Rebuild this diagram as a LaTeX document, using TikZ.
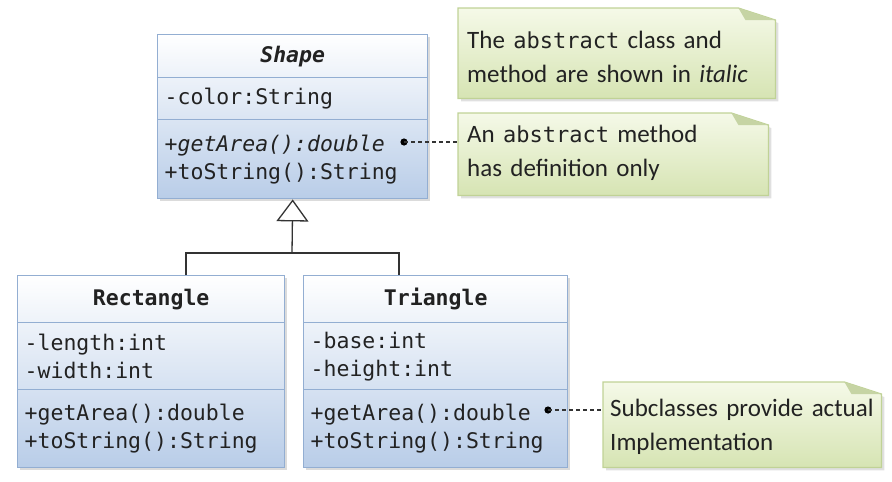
\documentclass[tikz,border=0pt]{standalone}
\usepackage{fontspec}
\setmainfont{Carlito}
\setmonofont{DejaVu Sans Mono}
\usetikzlibrary{arrows.meta,calc}
\definecolor{clsborder}{HTML}{93AED2}
\definecolor{clsmid}{HTML}{E6EDF7}
\definecolor{clsbot}{HTML}{B9CDE8}
\definecolor{notetop}{HTML}{F5F9E8}
\definecolor{notebot}{HTML}{D6E4B3}
\definecolor{noteborder}{HTML}{C0D296}
\definecolor{notefold}{HTML}{C6D4A4}
\definecolor{txt}{HTML}{222222}
\tikzset{
  comp/.style={draw=clsborder, line width=1.4pt, anchor=north west, inner ysep=0pt,
    text=txt, font=\ttfamily\fontsize{21.5}{28}\selectfont},
  hdr/.style={comp, align=center, inner xsep=0pt},
  body/.style={comp, align=left, inner xsep=7pt, text width=#1},
  notebox/.style={anchor=north west, inner xsep=9pt, inner ysep=0pt, align=left,
    text=txt, font=\fontsize{25}{34}\selectfont},
  shadowfill/.style={fill=black!14},
  clsshade/.style={top color=white, middle color=clsmid, bottom color=clsbot},
  noteshade/.style={top color=notetop, bottom color=notebot, draw=noteborder, line width=1.2pt},
  link/.style={line width=1.6pt, dash pattern=on 4pt off 3pt, black!80},
  dotmark/.style={fill=black},
  gen/.style={line width=1.3pt, black!80}
}
\newcommand{\notebg}[2]{%
  \fill[black!12] ($(#1.north west)+(3,3)$) -- ($(#1.north east)+(-34,3)$) -- ($(#1.north east)+(3,15)$) -- ($(#1.south east)+(3,3)$) -- ($(#1.south west)+(3,3)$) -- cycle;
  \shade[noteshade] (#1.north west) -- ($(#1.north east)+(-#2,0)$) -- ($(#1.north east)+(0,12)$) -- (#1.south east) -- (#1.south west) -- cycle;
  \fill[notefold] ($(#1.north east)+(-#2,0)$) -- ($(#1.north east)+(-#2+7,12)$) -- ($(#1.north east)+(0,12)$) -- cycle;
}
\begin{document}
\begin{tikzpicture}[x=1pt,y=-1pt]
\useasboundingbox (0,0) rectangle (892,482);

% ---------- Shape ----------
\fill[shadowfill] (160,37) rectangle (430,201);
\shade[clsshade] (157,34) rectangle (427,198);
\node[hdr, minimum width=270pt, minimum height=43pt] (shapeH) at (157,34) {\textbf{\textit{Shape}}};
\node[body=256pt, minimum height=42pt] (shapeA) at (157,77) {-color:String};
\node[body=256pt, minimum height=79pt] (shapeM) at (157,119) {\textit{+getArea():double}\\+toString():String};

% ---------- Rectangle ----------
\fill[shadowfill] (20,278) rectangle (287,470);
\shade[clsshade] (17,275) rectangle (284,467);
\node[hdr, minimum width=267pt, minimum height=47pt] (rectH) at (17,275) {\textbf{Rectangle}};
\node[body=253pt, minimum height=67pt] (rectA) at (17,322) {-length:int\\-width:int};
\node[body=253pt, minimum height=78pt] (rectM) at (17,389) {+getArea():double\\+toString():String};

% ---------- Triangle ----------
\fill[shadowfill] (306,278) rectangle (570,470);
\shade[clsshade] (303,275) rectangle (567,467);
\node[hdr, minimum width=264pt, minimum height=47pt] (triH) at (303,275) {\textbf{Triangle}};
\node[body=250pt, minimum height=67pt] (triA) at (303,322) {-base:int\\-height:int};
\node[body=250pt, minimum height=78pt] (triM) at (303,389) {+getArea():double\\+toString():String};

% ---------- generalization ----------
\coordinate (ra) at (186,275);
\coordinate (ta) at (399,275);
\coordinate (jn) at (292,253);
\draw[gen] (ra) |- (jn) -| (ta);
\draw[gen, -{Triangle[open, length=22pt, width=32pt, line width=1.3pt]}] (jn) -- (shapeM.south);

% ---------- notes ----------
\node[notebox, minimum width=317pt, minimum height=90pt, text width=299pt] (n1) at (458,8) {};
\notebg{n1}{37}
\node[notebox, text width=305pt] (n1t) at (458,31) {The \texttt{\fontsize{22}{34}\selectfont abstract} class and\\method are shown in \textit{italic}};

\node[notebox, minimum width=310pt, minimum height=82pt, text width=292pt] (n2) at (458,113) {};
\notebg{n2}{37}
\node[notebox, text width=300pt] (n2t) at (458,125) {An \texttt{\fontsize{22}{34}\selectfont abstract} method\\has definition only};

\node[notebox, minimum width=274pt, minimum height=85pt, text width=260pt] (n3) at (603,382) {};
\notebg{n3}{37}
\node[notebox, inner xsep=7pt, text width=275pt] (n3t) at (603,399) {Subclasses provide actual\\Implementation};

% ---------- note links ----------
\coordinate (d1) at (404,142);
\coordinate (d2) at (548,410);
\fill[dotmark] (d1) circle (3.6pt);
\fill[dotmark] (d2) circle (3.6pt);
\draw[link] (d1) -- (d1 -| n2.west);
\draw[link] (d2) -- (d2 -| n3.west);
\end{tikzpicture}
\end{document}
